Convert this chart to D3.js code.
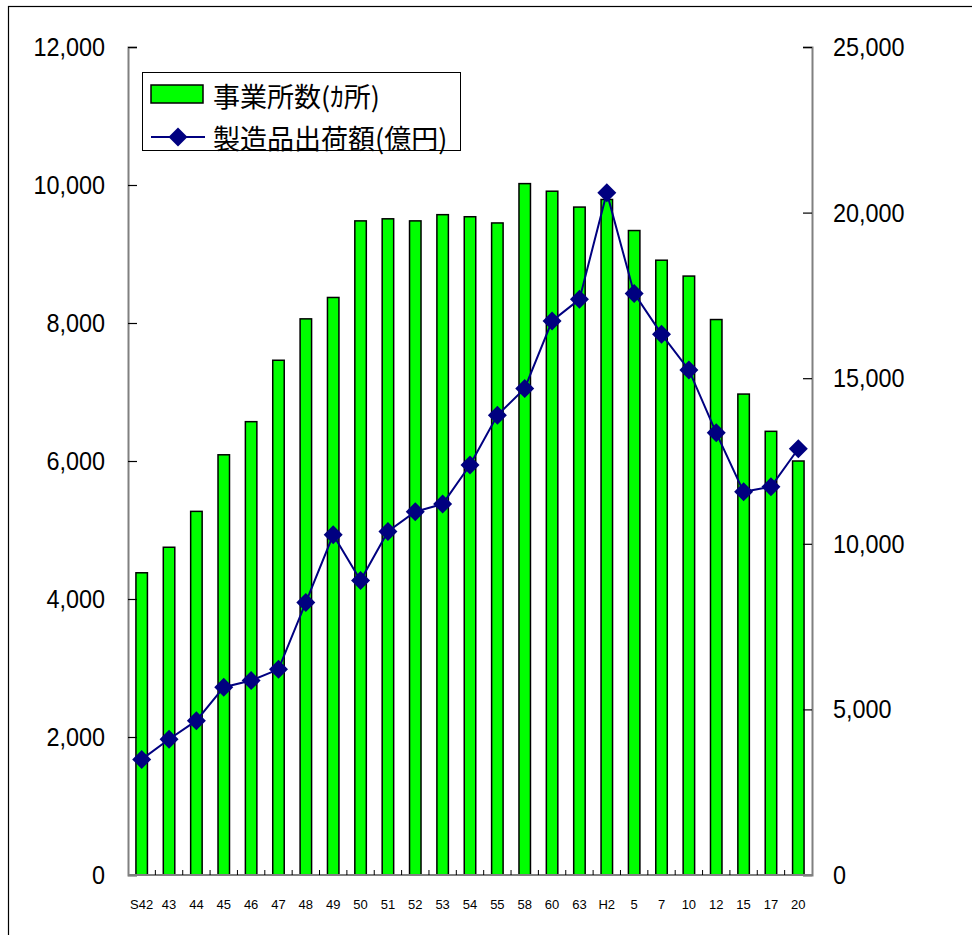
<!DOCTYPE html>
<html>
<head>
<meta charset="utf-8">
<script src="https://cdn.jsdelivr.net/npm/d3@7"></script>
<style>
  html, body { margin: 0; padding: 0; background: #fff; }
  svg { display: block; }
</style>
</head>
<body>
<svg id="chart" width="972" height="935"></svg>
<script>
// 年次（昭和S・平成H）
const categories = ["S42","43","44","45","46","47","48","49","50","51","52","53","54","55","58","60","63","H2","5","7","10","12","15","17","20"];
// 事業所数（ヵ所）
const establishments = [4380,4750,5270,6090,6570,7460,8060,8370,9480,9510,9480,9570,9540,9450,10020,9910,9680,9790,9340,8910,8680,8050,6970,6430,6000];
// 製造品出荷額（億円）
const shipments = [3490,4100,4660,5670,5870,6210,8230,10270,8890,10370,10970,11200,12380,13880,14690,16730,17380,20600,17560,16330,15250,13350,11570,11720,12870];
const leftTicks = [0,2000,4000,6000,8000,10000,12000];
const rightTicks = [0,5000,10000,15000,20000,25000];
const legendLabels = ["事業所数(ｶ所)", "製造品出荷額(億円)"];

const svg = d3.select("#chart");
const plot = { left: 128, right: 812, top: 47, bottom: 875 };

const x = d3.scaleBand().domain(categories).range([plot.left, plot.right]).padding(0);
const yL = d3.scaleLinear().domain([0, 12000]).range([plot.bottom, plot.top]);
const yR = d3.scaleLinear().domain([0, 25000]).range([plot.bottom, plot.top]);

const axisGrey = "#808080";
const numFont = "'Liberation Sans', Arial, sans-serif";
const cjkFont = "'Noto Sans CJK JP', sans-serif";

// outer frame
svg.append("rect")
  .attr("x", 8.5).attr("y", 6.5)
  .attr("width", 1200).attr("height", 1200)
  .attr("fill", "none").attr("stroke", "#000").attr("stroke-width", 1.2);

// bars
const barW = x.bandwidth() * 0.42;
svg.append("g").selectAll("rect")
  .data(categories)
  .join("rect")
  .attr("x", (d) => x(d) + x.bandwidth() / 2 - barW / 2)
  .attr("y", (d, i) => yL(establishments[i]))
  .attr("width", barW)
  .attr("height", (d, i) => plot.bottom - yL(establishments[i]))
  .attr("fill", "#00FF00")
  .attr("stroke", "#000")
  .attr("stroke-width", 1.5);

// left axis (ticks pointing inward)
const gL = svg.append("g").attr("transform", `translate(${plot.left},0)`)
  .call(d3.axisRight(yL).tickValues(leftTicks).tickSize(9).tickFormat(""));
gL.select(".domain").attr("stroke", axisGrey).attr("stroke-width", 2);
gL.selectAll(".tick line").attr("stroke", "#000").attr("stroke-width", 1.2);

svg.append("g").selectAll("text")
  .data(leftTicks)
  .join("text")
  .attr("transform", (d) => `translate(105,${yL(d)}) scale(0.9,1)`)
  .attr("text-anchor", "end")
  .attr("dominant-baseline", "central")
  .attr("font-family", numFont)
  .attr("font-size", 26)
  .attr("fill", "#000")
  .text(d3.format(","));

// right axis (ticks pointing inward)
const gR = svg.append("g").attr("transform", `translate(${plot.right},0)`)
  .call(d3.axisLeft(yR).tickValues(rightTicks).tickSize(9).tickFormat(""));
gR.select(".domain").attr("stroke", axisGrey).attr("stroke-width", 2);
gR.selectAll(".tick line").attr("stroke", "#000").attr("stroke-width", 1.2);

svg.append("g").selectAll("text")
  .data(rightTicks)
  .join("text")
  .attr("transform", (d) => `translate(833,${yR(d)}) scale(0.9,1)`)
  .attr("text-anchor", "start")
  .attr("dominant-baseline", "central")
  .attr("font-family", numFont)
  .attr("font-size", 26)
  .attr("fill", "#000")
  .text(d3.format(","));

// bottom axis: tick marks between categories, pointing up
const gB = svg.append("g").attr("transform", `translate(0,${plot.bottom})`);
gB.append("line")
  .attr("x1", plot.left).attr("x2", plot.right)
  .attr("stroke", axisGrey).attr("stroke-width", 2);
gB.selectAll("line.sep")
  .data(categories.slice(1))
  .join("line")
  .attr("class", "sep")
  .attr("x1", (d) => x(d)).attr("x2", (d) => x(d))
  .attr("y1", 0).attr("y2", -5)
  .attr("stroke", "#000").attr("stroke-width", 1);
gB.selectAll("text")
  .data(categories)
  .join("text")
  .attr("x", (d) => x(d) + x.bandwidth() / 2)
  .attr("y", 34)
  .attr("text-anchor", "middle")
  .attr("font-family", numFont)
  .attr("font-size", 13)
  .attr("fill", "#000")
  .text((d) => d);

// shipments line with diamond markers
const lineColor = "#000080";
const diamond = (r) => `M0,${-r}L${r},0L0,${r}L${-r},0Z`;
const line = d3.line()
  .x((d, i) => x(categories[i]) + x.bandwidth() / 2)
  .y((d) => yR(d));
svg.append("path")
  .datum(shipments)
  .attr("d", line)
  .attr("fill", "none")
  .attr("stroke", lineColor)
  .attr("stroke-width", 2);
svg.append("g").selectAll("path")
  .data(shipments)
  .join("path")
  .attr("transform", (d, i) => `translate(${x(categories[i]) + x.bandwidth() / 2},${yR(d)})`)
  .attr("d", diamond(9.5))
  .attr("fill", lineColor);

// legend
const lg = svg.append("g");
lg.append("rect")
  .attr("x", 142.5).attr("y", 72.5).attr("width", 318).attr("height", 78)
  .attr("fill", "#fff").attr("stroke", "#000").attr("stroke-width", 1);
lg.append("rect")
  .attr("x", 151).attr("y", 85).attr("width", 52).attr("height", 18)
  .attr("fill", "#00FF00").attr("stroke", "#000").attr("stroke-width", 1.5);
lg.append("line")
  .attr("x1", 151).attr("x2", 205).attr("y1", 137).attr("y2", 137)
  .attr("stroke", lineColor).attr("stroke-width", 2);
lg.append("path")
  .attr("transform", "translate(178,137)")
  .attr("d", diamond(9.5))
  .attr("fill", lineColor);
lg.selectAll("text")
  .data(legendLabels)
  .join("text")
  .attr("x", 213)
  .attr("y", (d, i) => i === 0 ? 95 : 137)
  .attr("dominant-baseline", "central")
  .attr("font-family", cjkFont)
  .attr("font-size", 27)
  .attr("fill", "#000")
  .text((d) => d);
</script>
</body>
</html>
